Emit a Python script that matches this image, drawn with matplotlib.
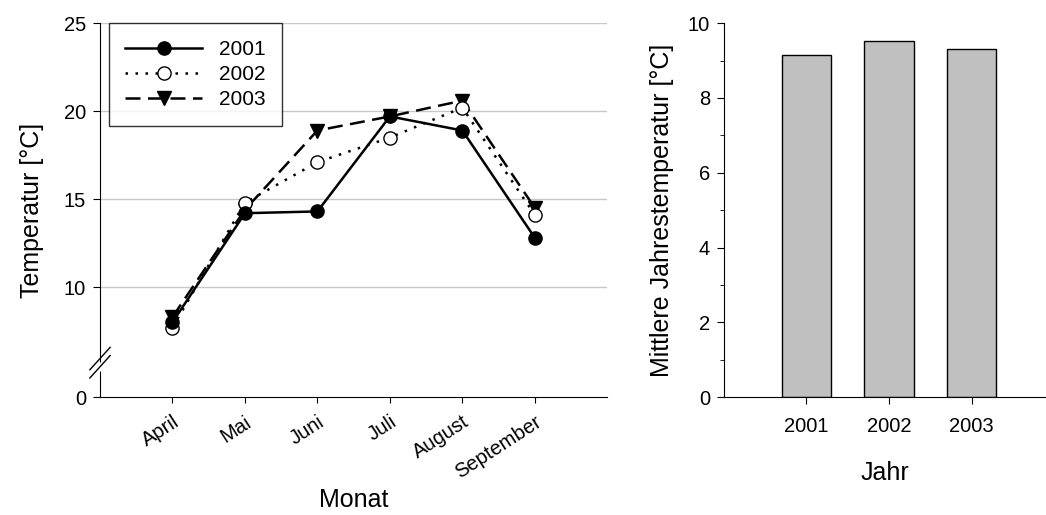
import numpy as np
import matplotlib
matplotlib.use("Agg")
import matplotlib.pyplot as plt
from matplotlib.ticker import AutoMinorLocator

plt.rcParams['font.family'] = ['Liberation Sans', 'DejaVu Sans']

monate = ['April', 'Mai', 'Juni', 'Juli', 'August', 'September']
t2001 = [8.0, 14.2, 14.3, 19.7, 18.9, 12.8]
t2002 = [7.7, 14.8, 17.1, 18.5, 20.2, 14.1]
t2003 = [8.3, 14.4, 18.9, 19.7, 20.6, 14.5]

jahre = ['2001', '2002', '2003']
mittel = [9.14, 9.53, 9.31]


# broken y axis: 0..6 squeezed, linear above 6
def fwd(v):
    v = np.asarray(v, float)
    return np.where(v >= 6, v, 3.75 + v * (2.25 / 6))


def inv(u):
    u = np.asarray(u, float)
    return np.where(u >= 6, u, (u - 3.75) * 6 / 2.25)


fig = plt.figure(figsize=(10.46, 5.15), dpi=100)
ax = fig.add_axes([0.0956, 0.229, 0.485, 0.726])
ax2 = fig.add_axes([0.692, 0.229, 0.308, 0.726])

x = np.arange(len(monate))
ax.set_yscale('function', functions=(fwd, inv))
ax.plot(x, t2001, color='black', lw=1.8, ls='-', marker='o', ms=9.5,
        mfc='black', mec='black', label='2001', zorder=5)
ax.plot(x, t2002, color='black', lw=1.8, ls=(0, (1, 3)), marker='o', ms=9.5,
        mfc='white', mec='black', label='2002', zorder=4)
ax.plot(x, t2003, color='black', lw=1.8, ls=(0, (6, 3)), marker='v', ms=9.5,
        mfc='black', mec='black', label='2003', zorder=3)

ax.set_xlim(-1, 6)
ax.set_ylim(0, 25)
ax.set_yticks([0, 10, 15, 20, 25])
ax.set_xticks(x)
ax.set_xticklabels(monate, rotation=33, ha='right', rotation_mode='anchor')
for g in [10, 15, 20, 25]:
    ax.axhline(g, color='#c8c8c8', lw=1, zorder=0)
for s in ['top', 'right']:
    ax.spines[s].set_visible(False)
ax.tick_params(labelsize=14.5, length=5, direction='out', pad=5)
ax.tick_params(axis='x', length=4, pad=7)
ax.set_ylabel('Temperatur [°C]', fontsize=18, labelpad=14)
ax.set_xlabel('Monat', fontsize=18, labelpad=4)

# break marks on the y axis
yb = 0.092
ax.fill([-0.03, 0.03, 0.03, -0.03], [yb - 0.045, yb + 0.0, yb + 0.02, yb - 0.025],
        color='white', transform=ax.transAxes, clip_on=False, zorder=6)
for off in [-0.011, 0.011]:
    ax.plot([-0.02, 0.02], [yb - 0.03 + off, yb + 0.03 + off], color='black',
            lw=1, transform=ax.transAxes, clip_on=False, zorder=7)

leg = ax.legend(loc='upper left', bbox_to_anchor=(0.017, 1.0), fontsize=15,
                frameon=True, fancybox=False, edgecolor='black', handlelength=3.7,
                borderpad=0.8, labelspacing=0.3, handletextpad=0.8, borderaxespad=0)
leg.get_frame().set_linewidth(1)

# right: mean annual temperature
xb = np.arange(1, len(jahre) + 1)
ax2.bar(xb, mittel, width=0.6, color='#c0c0c0', edgecolor='black', lw=1)
ax2.set_xlim(0, 3.9)
ax2.set_ylim(0, 10)
ax2.set_yticks([0, 2, 4, 6, 8, 10])
ax2.yaxis.set_minor_locator(AutoMinorLocator(2))
ax2.set_xticks(xb)
ax2.set_xticklabels(jahre)
for s in ['top', 'right']:
    ax2.spines[s].set_visible(False)
ax2.tick_params(labelsize=14.5, length=5, direction='out', pad=5)
ax2.tick_params(axis='x', pad=9)
ax2.tick_params(which='minor', length=3)
ax2.set_ylabel('Mittlere Jahrestemperatur [°C]', fontsize=18, labelpad=10)
ax2.set_xlabel('Jahr', fontsize=18, labelpad=18)

fig.savefig('out.png', dpi=100)
